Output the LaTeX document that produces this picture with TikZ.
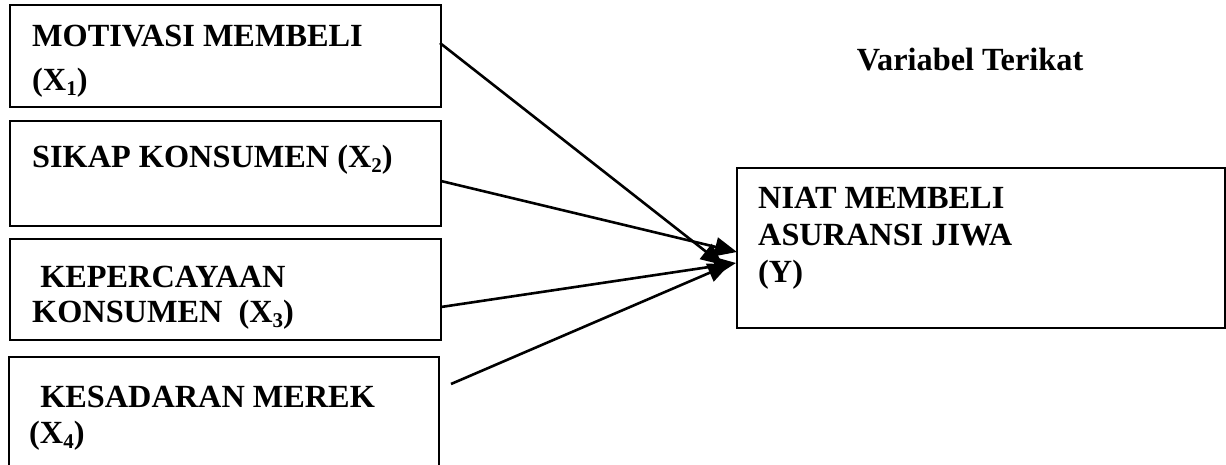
\documentclass[tikz,border=0pt]{standalone}
\usepackage{fontspec}
\setmainfont{Liberation Serif}
\usetikzlibrary{arrows.meta}
\newcommand{\sbs}[1]{\raisebox{-0.18em}{\fontsize{21}{21}\selectfont #1}}
\begin{document}
\begin{tikzpicture}[x=1pt,y=-1pt,
  box/.style={draw,line width=2pt,inner sep=0pt,rectangle},
  lbl/.style={anchor=base west,inner sep=0pt,font=\fontsize{32.3}{32}\selectfont\bfseries},
  arr/.style={line width=2.6pt,-{Triangle[length=22pt,width=19pt]}}]
\useasboundingbox (0,0) rectangle (1226,464);
% boxes
\node[box,minimum width=431,minimum height=102] (x1) at (225.5,56) {};
\node[box,minimum width=431,minimum height=105] (x2) at (225.5,173.5) {};
\node[box,minimum width=431,minimum height=101] (x3) at (225.5,289.5) {};
\node[box,minimum width=430,minimum height=110] (x4) at (224,412) {};
\node[box,minimum width=488,minimum height=160] (y) at (981,248) {};
% texts
\node[lbl] (t1a) at (32,46) {MOTIVASI MEMBELI};
\node[lbl] (t1b) at (32,90) {(X\sbs{1})};
\node[lbl] (t2a) at (32,167) {SIKAP KONSUMEN (X\sbs{2})};
\node[lbl] (t3a) at (32,287) {\ KEPERCAYAAN};
\node[lbl] (t3b) at (32,322) {KONSUMEN\ \ (X\sbs{3})};
\node[lbl] (t4a) at (32,407) {\ KESADARAN MEREK};
\node[lbl] (t4b) at (29,443) {(X\sbs{4})};
\node[lbl] (ta) at (758,208) {NIAT MEMBELI};
\node[lbl] (tb) at (758,245) {ASURANSI JIWA};
\node[lbl] (tc) at (758,282) {(Y)};
\node[anchor=base,inner sep=0pt,font=\fontsize{32.3}{32}\selectfont\bfseries] (vt) at (970,70) {Variabel Terikat};
% arrow anchors
\coordinate (s1) at (440,43);
\coordinate (s2) at (441,181);
\coordinate (s3) at (441,307);
\coordinate (s4) at (451,384);
\coordinate (e1) at (723,265);
\coordinate (e2) at (737,252);
\coordinate (e3) at (736,263);
\coordinate (e4) at (730,264);
\draw[arr] (s1) -- (e1);
\draw[arr] (s2) -- (e2);
\draw[arr] (s3) -- (e3);
\draw[arr] (s4) -- (e4);
\end{tikzpicture}
\end{document}
